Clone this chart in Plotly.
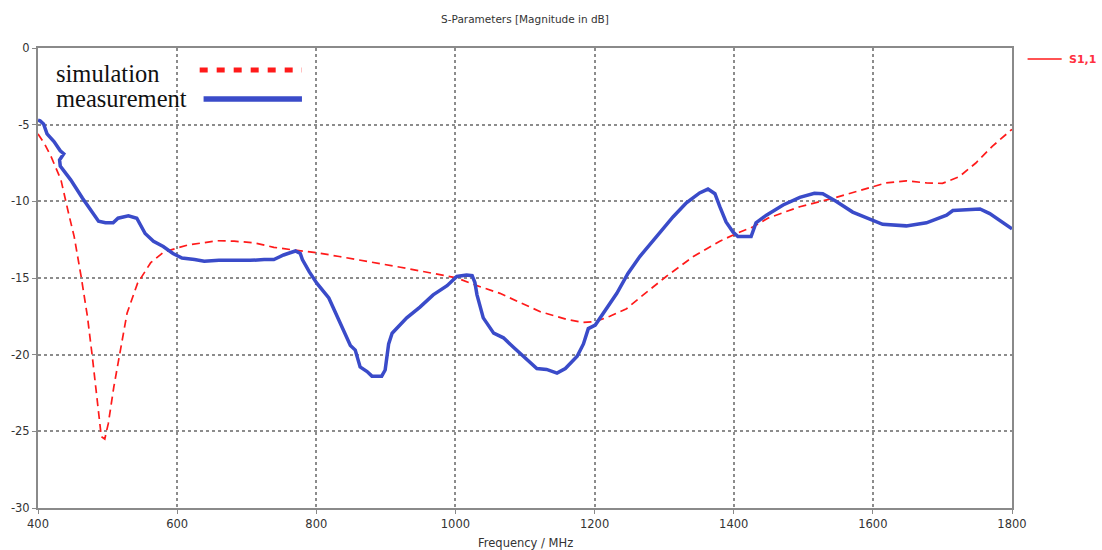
import plotly.graph_objects as go

meas_f = [400, 403, 408, 413, 423, 432, 437, 431, 432, 447, 464, 479, 487, 497, 508, 515, 530, 542, 554, 566,
          580, 594, 607, 625, 639, 660, 681, 705, 725, 739, 753, 770, 777, 780, 790, 801, 818, 827, 839, 849,
          856, 863, 873, 880, 894, 899, 904, 909, 930, 949, 968, 988, 1002, 1016, 1024, 1028, 1031, 1040, 1055,
          1069, 1083, 1098, 1117, 1131, 1146, 1158, 1175, 1184, 1191, 1201, 1212, 1232, 1248, 1265, 1289, 1313,
          1332, 1351, 1363, 1373, 1380, 1389, 1399, 1406, 1425, 1432, 1447, 1471, 1495, 1516, 1528, 1547, 1571,
          1600, 1614, 1648, 1677, 1706, 1715, 1754, 1768, 1800]
meas_db = [-4.7, -4.75, -4.95, -5.6, -6.1, -6.7, -6.9, -7.3, -7.7, -8.6, -9.8, -10.8, -11.3, -11.4, -11.4, -11.1,
           -10.95, -11.1, -12.1, -12.6, -12.95, -13.4, -13.7, -13.8, -13.9, -13.85, -13.87, -13.85, -13.8, -13.8,
           -13.5, -13.24, -13.4, -13.8, -14.6, -15.35, -16.3, -17.2, -18.4, -19.4, -19.7, -20.8, -21.1, -21.4,
           -21.4, -21.0, -19.3, -18.6, -17.6, -16.9, -16.1, -15.5, -14.9, -14.8, -14.85, -15.3, -16.1, -17.6,
           -18.6, -18.9, -19.5, -20.1, -20.9, -20.96, -21.2, -20.9, -20.1, -19.3, -18.3, -18.07, -17.3, -16.0,
           -14.7, -13.6, -12.3, -11.0, -10.1, -9.45, -9.2, -9.5, -10.35, -11.35, -12.0, -12.3, -12.3, -11.4,
           -10.9, -10.24, -9.74, -9.48, -9.5, -10.0, -10.7, -11.2, -11.5, -11.6, -11.4, -10.9, -10.6, -10.5,
           -10.8, -11.8]

sim_f = [400, 410, 419, 433, 443, 452, 462, 471, 478, 486, 491, 496, 501, 509, 517, 528, 543, 562, 581, 615,
         658, 682, 710, 739, 772, 801, 833, 873, 921, 968, 1002, 1031, 1064, 1122, 1160, 1184, 1201, 1222, 1246,
         1270, 1303, 1342, 1380, 1404, 1428, 1449, 1495, 1543, 1590, 1619, 1648, 1677, 1700, 1724, 1748, 1772,
         1800]
sim_db = [-5.6, -6.3, -7.1, -8.6, -10.6, -12.3, -14.9, -17.5, -20.1, -23.2, -25.35, -25.5, -24.5, -22.1, -20.1,
          -17.3, -15.35, -14.0, -13.3, -12.85, -12.57, -12.6, -12.7, -13.0, -13.2, -13.35, -13.6, -13.9, -14.3,
          -14.7, -15.0, -15.5, -16.0, -17.2, -17.7, -17.9, -17.85, -17.5, -17.0, -16.1, -14.9, -13.6, -12.6,
          -12.1, -11.66, -11.1, -10.35, -9.8, -9.15, -8.8, -8.66, -8.8, -8.83, -8.4, -7.5, -6.4, -5.3]

x_ticks = [400, 600, 800, 1000, 1200, 1400, 1600, 1800]
y_ticks = [0, -5, -10, -15, -20, -25, -30]

RED = "#ff1a1a"
BLUE = "#3a4bc9"
GRID = "#8c8c8c"
AXIS = "#8a8a8a"

fig = go.Figure()
fig.add_trace(go.Scatter(x=sim_f, y=sim_db, mode="lines", name="simulation",
                         line=dict(color=RED, width=1.7, dash="8px,5px"), showlegend=False))
fig.add_trace(go.Scatter(x=meas_f, y=meas_db, mode="lines", name="measurement",
                         line=dict(color=BLUE, width=3.5), showlegend=False))

axis_common = dict(showline=True, linecolor=AXIS, linewidth=2, mirror=True,
                   showgrid=True, gridcolor=GRID, gridwidth=1.5, griddash="dot",
                   ticks="outside", ticklen=4, tickcolor=AXIS, zeroline=False, automargin=False,
                   tickfont=dict(family="DejaVu Sans", size=11.5, color="#333333"))

fig.update_xaxes(range=[400, 1800], tickvals=x_ticks, ticktext=[str(v) for v in x_ticks], **axis_common)
fig.update_yaxes(range=[-30, 0], tickvals=y_ticks, ticktext=[str(v) for v in y_ticks], **axis_common)

# x axis title
fig.add_annotation(xref="paper", yref="paper", x=0.5, y=-0.076, xanchor="center", yanchor="middle",
                   text="Frequency / MHz", showarrow=False,
                   font=dict(family="DejaVu Sans", size=11.5, color="#333333"))

# inner legend (text then sample line)
fig.add_annotation(xref="paper", yref="paper", x=0.0165, y=0.945, xanchor="left", yanchor="middle",
                   text="simulation", showarrow=False,
                   font=dict(family="Liberation Serif", size=24.5, color="#111111"))
fig.add_annotation(xref="paper", yref="paper", x=0.0165, y=0.890, xanchor="left", yanchor="middle",
                   text="measurement", showarrow=False,
                   font=dict(family="Liberation Serif", size=24.5, color="#111111"))
fig.add_shape(type="line", xref="paper", yref="paper", x0=0.166, x1=0.271, y0=0.952, y1=0.952,
              line=dict(color=RED, width=5, dash="8px,9px"))
fig.add_shape(type="line", xref="paper", yref="paper", x0=0.170, x1=0.271, y0=0.889, y1=0.889,
              line=dict(color=BLUE, width=5.5))

# outer legend S1,1
fig.add_shape(type="line", xref="paper", yref="paper", x0=1.016, x1=1.051, y0=0.976, y1=0.976,
              line=dict(color=RED, width=1.5))
fig.add_annotation(xref="paper", yref="paper", x=1.056, y=0.976, xanchor="left", yanchor="middle",
                   text="<b>S1,1</b>", showarrow=False,
                   font=dict(family="DejaVu Sans", size=11, color="#ff3040"))

fig.update_layout(
    width=1102, height=550,
    margin=dict(l=38, r=90, t=48, b=42),
    paper_bgcolor="white", plot_bgcolor="white",
    title=dict(text="S-Parameters [Magnitude in dB]", x=0.4764, xanchor="center", y=0.965, yanchor="middle",
               font=dict(family="DejaVu Sans", size=10.5, color="#333333")),
    showlegend=False,
)

fig.write_html("out.html")
